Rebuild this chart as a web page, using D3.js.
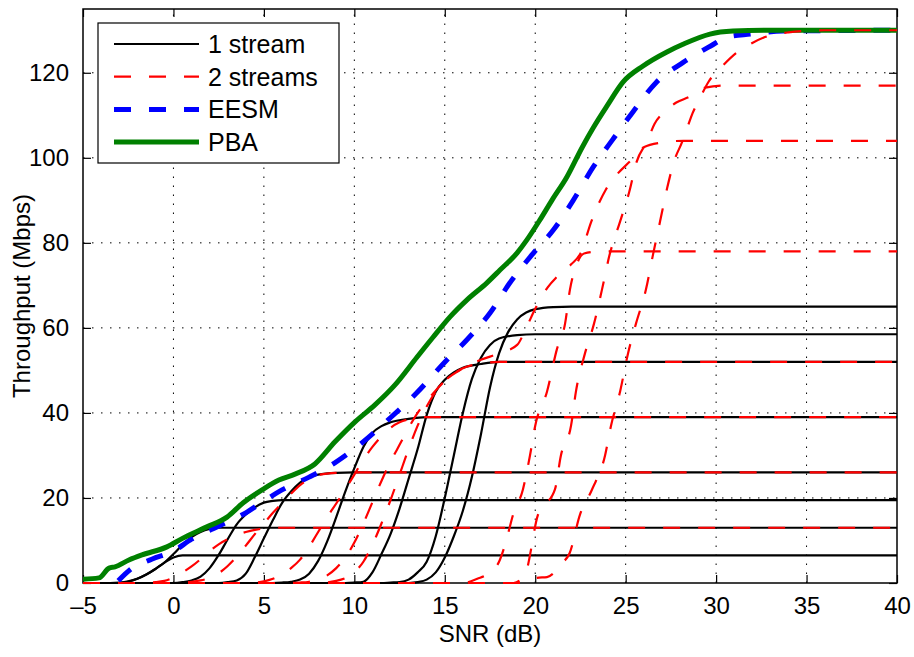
<!DOCTYPE html>
<html>
<head>
<meta charset="utf-8">
<script src="https://cdn.jsdelivr.net/npm/d3@7"></script>
<style>
  body { margin: 0; background: #fff; }
  svg { display: block; }
  text { font-family: "Liberation Sans", Arial, Helvetica, sans-serif; fill: #000; }
</style>
</head>
<body>
<svg id="chart" width="914" height="657"></svg>
<script>
// Axis ticks
const xTicks = [-5, 0, 5, 10, 15, 20, 25, 30, 35, 40];
const yTicks = [0, 20, 40, 60, 80, 100, 120];

// Throughput (Mbps) vs SNR (dB), one stream, per MCS rate: [snr, throughput]
const oneStreamCurves = [
  [[-5,0],[-3.5,0],[-3,0.1],[-2.5,0.4],[-2,1.0],[-1.5,2.0],[-1,3.3],[-0.5,4.8],[0,6.0],[0.5,6.5],[40,6.5]],
  [[-5,0],[-3,0],[-2.5,0.3],[-2,1.0],[-1.5,2.0],[-1,3.3],[-0.5,4.8],[0,6.8],[0.5,9.0],[1,10.8],[1.5,12.0],[2,12.7],[2.5,13],[40,13]],
  [[-5,0],[0,0],[0.5,0.2],[1,0.6],[1.5,1.5],[2,3.5],[2.5,6.6],[3,10.3],[3.5,13.8],[4,16.1],[4.5,17.8],[5,18.9],[5.5,19.3],[6,19.5],[40,19.5]],
  [[-5,0],[2.5,0],[3,0.2],[3.5,0.6],[4,2.2],[4.5,6.1],[5,10.5],[5.5,14.8],[6,18.8],[6.5,21.5],[7,23.6],[7.5,24.9],[8,25.5],[9,25.9],[10,26],[40,26]],
  [[-5,0],[5.5,0],[6,0.1],[6.5,0.3],[7,0.8],[7.5,2.2],[8,5.2],[8.5,9.8],[9,15.5],[9.5,21.5],[10,27],[10.5,32],[11,35.3],[11.5,36.9],[12,37.8],[13,38.6],[14,39],[40,39]],
  [[-5,0],[9.5,0],[10,0.1],[10.5,0.3],[11,2.5],[11.5,6.8],[12,11.5],[12.5,17.5],[13,24.5],[13.5,31.5],[14,39.5],[14.5,45],[15,47.8],[15.5,49.5],[16,50.6],[17,51.5],[18,52],[40,52]],
  [[-5,0],[11.5,0],[12,0.1],[12.5,0.2],[13,0.8],[13.5,2.5],[14,5],[14.5,11],[15,20],[15.5,30],[16,40],[16.5,48],[17,53],[17.5,56],[18,57.5],[19,58.3],[20,58.5],[40,58.5]],
  [[-5,0],[13,0],[13.5,0.2],[14,0.8],[14.5,2.5],[15,6],[15.5,11],[16,17],[16.5,25],[17,35],[17.5,46],[18,54],[18.5,59],[19,62],[19.5,63.6],[20,64.4],[21,64.9],[22,65],[40,65]]
];

// Two streams, per MCS rate
const twoStreamCurves = [
  [[-5,0],[-2,0],[-1.5,0.1],[-1,0.2],[-0.5,0.5],[0,1.3],[0.5,2.5],[1,3.9],[1.5,5.6],[2,7.5],[2.5,9.1],[3,10.3],[3.5,11.3],[4,12],[4.5,12.5],[5,12.8],[6,13],[40,13]],
  [[-5,0],[0,0],[0.5,0.1],[1,0.3],[1.5,0.6],[2,1.2],[2.5,2.3],[3,4],[3.5,6.2],[4,8.8],[4.5,11.5],[5,14],[5.5,16.5],[6,18.8],[6.5,21],[7,23],[7.5,24.5],[8,25.4],[9,25.9],[10,26],[40,26]],
  [[-5,0],[4,0],[4.5,0.1],[5,0.4],[5.5,1],[6,2],[6.5,3.5],[7,5.5],[7.5,8.5],[8,12],[8.5,15.5],[9,18.7],[9.5,22],[10,25.5],[10.5,29],[11,32],[11.5,34.5],[12,36.5],[12.5,37.8],[13,38.5],[14,39],[40,39]],
  [[-5,0],[6.5,0],[7,0.1],[7.5,0.3],[8,0.8],[8.5,1.8],[9,3.5],[9.5,6],[10,9.5],[10.5,14],[11,19],[11.5,24],[12,28.5],[12.5,32.5],[13,36.5],[13.5,40],[14,42.8],[14.5,45.3],[15,47.5],[15.5,49.2],[16,50.5],[17,51.6],[18,52],[40,52]],
  [[-5,0],[16,0],[16.8,1],[17.5,2.5],[18,5],[18.4,10],[18.77,16],[19.32,22],[19.71,30],[20,37],[20.65,45],[21.2,55],[21.65,61],[21.92,69],[22.3,75],[22.7,77.5],[23.6,78],[40,78]],
  [[-5,0],[8,0],[9,0.5],[10,2.5],[10.5,5],[11,9],[11.5,14],[12,19.5],[12.5,25.5],[13,31.5],[13.5,37],[14,41.5],[14.5,45],[15,47.5],[16,50.5],[17,52.5],[18,54],[19,56],[19.5,60],[20,64.5],[20.7,69.6],[21.2,72],[22,75],[22.5,77.5],[23.1,85],[23.9,92.5],[24.5,96],[25.2,99],[26,102.5],[27,103.6],[28.2,104],[40,104]],
  [[-5,0],[18.8,0],[19.43,2],[20.15,16],[21.09,22],[21.42,30],[21.98,37],[22.25,45],[22.75,54],[23.25,61],[23.69,69],[24.1,77],[24.69,85],[25.2,92],[25.6,99],[26.2,104],[26.6,108],[27.2,111],[27.8,113],[28.5,114.3],[29.4,116.5],[30.5,117],[40,117]],
  [[-5,0],[19.5,0],[20.1,1.2],[20.65,1.4],[21.5,4.7],[21.9,7],[22.47,16],[23.14,22],[23.86,30],[24.19,37],[24.69,45],[25.13,54],[25.57,61],[26.12,69],[26.5,77],[26.9,85],[27.3,93],[27.7,99.5],[28.1,103.5],[28.4,107],[28.7,110.5],[29.1,114],[29.6,118],[30.4,121.8],[31.1,124.6],[32,127],[32.7,128.4],[34,129.5],[36,130],[40,130]]
];

// EESM link adaptation
const eesm = [[-3.05,0.5],[-2.4,3.1],[-1.2,5.6],[0,7.5],[1,10.3],[2.6,13.6],[4,16.5],[4.9,19],[6,21.9],[7.5,24.9],[8.9,28.2],[10.4,32.9],[11.9,38.5],[13.4,44.5],[15.1,52.4],[16.2,57.1],[17.5,63.5],[18.6,70.6],[19.9,77.6],[21,83],[22.1,90],[23.2,97.8],[24.3,104.4],[25.4,110.8],[26.7,117.8],[28.2,122.5],[29.7,126.3],[30.6,128.4],[31.9,129.1],[33.7,129.8],[40,130]];

// PBA link adaptation
const pba = [[-5,0.9],[-4.12,1.2],[-3.56,3.5],[-3.23,3.8],[-2.46,5.4],[-1.74,6.6],[-0.36,8.5],[0.5,10.5],[1.85,13.2],[2.96,15.5],[3.84,18.8],[4.9,21.9],[5.83,24.2],[6.72,25.6],[7.82,28],[8.93,33.2],[10.04,37.9],[11.14,41.9],[12.25,46.6],[13.46,53.1],[14.35,57.8],[15.29,62.6],[16.23,66.6],[17.33,70.6],[18.05,73.6],[18.99,77.6],[19.54,80.7],[20.26,85.4],[20.92,90],[21.75,95.5],[22.6,102.5],[23.2,107],[23.97,112.2],[24.85,117.8],[25.96,121.6],[27.28,124.9],[28.17,126.7],[29.66,129.1],[30.93,129.8],[32.8,130],[40,130]];

const legendItems = [
  { label: "1 stream",  color: "#000",    width: 2.2, dash: null },
  { label: "2 streams", color: "#ff0000", width: 2.2, dash: "17,18" },
  { label: "EESM",      color: "#0000ff", width: 5,   dash: "17,18" },
  { label: "PBA",       color: "#008000", width: 5,   dash: null }
];

const svg = d3.select("#chart");
const margin = { left: 83, top: 9, right: 17, bottom: 74 };
const W = 914, H = 657;
const x = d3.scaleLinear().domain([-5, 40]).range([margin.left, W - margin.right]);
const y = d3.scaleLinear().domain([0, 135]).range([H - margin.bottom, margin.top]);
const x0 = x.range()[0], x1 = x.range()[1], y0 = y.range()[0], y1 = y.range()[1];

svg.append("defs").append("clipPath").attr("id", "plotclip")
  .append("rect").attr("x", x0 - 3).attr("y", y1 - 3).attr("width", x1 - x0 + 6).attr("height", y0 - y1 + 6);

// dotted grid
const grid = svg.append("g").attr("stroke", "#000").attr("stroke-width", 1).attr("stroke-dasharray", "1.5,7.5");
grid.selectAll(".gx").data(xTicks.slice(1, -1)).join("line")
  .attr("x1", d => x(d)).attr("x2", d => x(d)).attr("y1", y0).attr("y2", y1);
grid.selectAll(".gy").data(yTicks.slice(1)).join("line")
  .attr("y1", d => y(d)).attr("y2", d => y(d)).attr("x1", x0).attr("x2", x1);

// axes with inward ticks on all four sides
const tickLen = 8;
const axB = svg.append("g").attr("transform", `translate(0,${y0})`)
  .call(d3.axisBottom(x).tickValues(xTicks).tickSizeInner(-tickLen).tickSizeOuter(0).tickPadding(14)
    .tickFormat(d => d < 0 ? "\u2013" + Math.abs(d) : d));
const axT = svg.append("g").attr("transform", `translate(0,${y1})`)
  .call(d3.axisTop(x).tickValues(xTicks).tickSizeInner(-tickLen).tickSizeOuter(0).tickFormat(""));
const axL = svg.append("g").attr("transform", `translate(${x0},0)`)
  .call(d3.axisLeft(y).tickValues(yTicks).tickSizeInner(-tickLen).tickSizeOuter(0).tickPadding(14));
const axR = svg.append("g").attr("transform", `translate(${x1},0)`)
  .call(d3.axisRight(y).tickValues(yTicks).tickSizeInner(-tickLen).tickSizeOuter(0).tickFormat(""));
[axB, axT, axL, axR].forEach(g => {
  g.select(".domain").remove();
  g.selectAll(".tick line").attr("stroke", "#000").attr("stroke-width", 1.2);
  g.selectAll("text").attr("font-size", 24).attr("fill", "#000")
    .style("font-family", '"Liberation Sans", Arial, sans-serif');
});
axB.selectAll("text").attr("dy", "0.71em");

// box
svg.append("rect").attr("x", x0).attr("y", y1).attr("width", x1 - x0).attr("height", y0 - y1)
  .attr("fill", "none").attr("stroke", "#000").attr("stroke-width", 1.5);

// data
const line = d3.line().x(d => x(d[0])).y(d => y(d[1])).curve(d3.curveMonotoneX);
const plot = svg.append("g").attr("clip-path", "url(#plotclip)").attr("fill", "none")
  .attr("stroke-linejoin", "round");

plot.selectAll(".one").data(oneStreamCurves).join("path")
  .attr("d", line).attr("stroke", "#000").attr("stroke-width", 2.2);
plot.append("path").datum(eesm).attr("d", line)
  .attr("stroke", "#0000ff").attr("stroke-width", 5).attr("stroke-dasharray", "17,18");
plot.append("path").datum(pba).attr("d", line)
  .attr("stroke", "#008000").attr("stroke-width", 5);
plot.selectAll(".two").data(twoStreamCurves).join("path")
  .attr("d", line).attr("stroke", "#ff0000").attr("stroke-width", 2.2).attr("stroke-dasharray", "17,18");

// axis labels
svg.append("text").attr("x", (x0 + x1) / 2).attr("y", 642).attr("text-anchor", "middle")
  .attr("font-size", 24).text("SNR (dB)");
svg.append("text").attr("transform", `translate(30,${(y0 + y1) / 2}) rotate(-90)`)
  .attr("text-anchor", "middle").attr("font-size", 24).text("Throughput (Mbps)");

// legend
const lg = svg.append("g");
lg.append("rect").attr("x", 98).attr("y", 23).attr("width", 241).attr("height", 140)
  .attr("fill", "#fff").attr("stroke", "#000").attr("stroke-width", 1.2);
legendItems.forEach((it, i) => {
  const cy = 44 + i * 32.7;
  lg.append("line").attr("x1", 114).attr("x2", 199).attr("y1", cy).attr("y2", cy)
    .attr("stroke", it.color).attr("stroke-width", it.width)
    .attr("stroke-dasharray", it.dash);
  lg.append("text").attr("x", 208).attr("y", cy).attr("dy", "0.36em")
    .attr("font-size", 25).text(it.label);
});
</script>
</body>
</html>
